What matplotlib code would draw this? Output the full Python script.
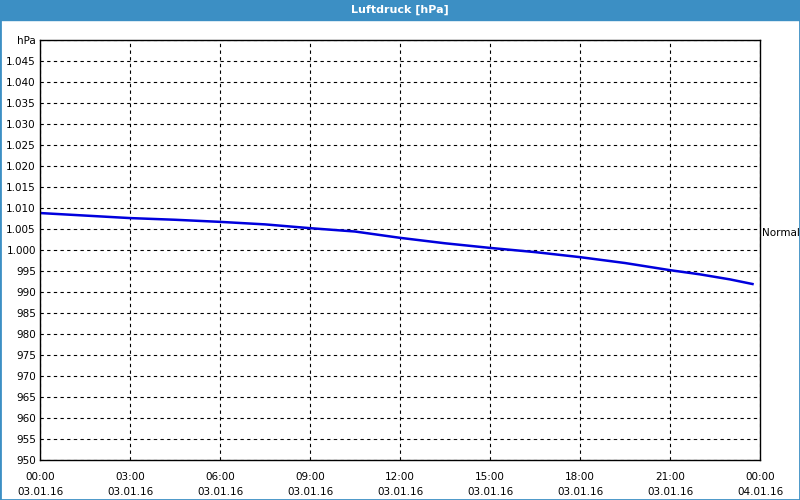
import matplotlib
matplotlib.use("Agg")
import matplotlib.pyplot as plt
from matplotlib.patches import Rectangle

hours = [0, 1.5, 3, 4.5, 6, 7.5, 9, 10.5, 12, 13.5, 15, 16.5, 18, 19.5, 21, 22, 23, 23.75]
pressure = [1008.8, 1008.2, 1007.6, 1007.2, 1006.7, 1006.1, 1005.2, 1004.4, 1002.9, 1001.6, 1000.5, 999.5, 998.3, 996.9, 995.2, 994.2, 993.0, 991.9]
x_ticks = [0, 3, 6, 9, 12, 15, 18, 21, 24]
x_labels = ["00:00\n03.01.16", "03:00\n03.01.16", "06:00\n03.01.16", "09:00\n03.01.16",
            "12:00\n03.01.16", "15:00\n03.01.16", "18:00\n03.01.16", "21:00\n03.01.16",
            "00:00\n04.01.16"]
y_ticks = list(range(950, 1051, 5))
y_labels = [f"{v/1000:.3f}" if v >= 1000 else str(v) for v in y_ticks]
y_labels[-1] = "hPa"

fig = plt.figure(figsize=(8, 5), dpi=100)
fig.patches.append(Rectangle((0, 0.96), 1, 0.04, transform=fig.transFigure, color="#3c8fc4", zorder=0))
fig.patches.append(Rectangle((0, 0), 1, 1, transform=fig.transFigure, fill=False, edgecolor="#3c8fc4", lw=2))
fig.text(0.5, 0.98, "Luftdruck [hPa]", ha="center", va="center", color="white", fontsize=8, fontweight="bold")

ax = fig.add_axes([0.05, 0.08, 0.9, 0.84])
ax.plot(hours, pressure, color="#0000dd", lw=1.8)
ax.set_xlim(0, 24)
ax.set_ylim(950, 1050)
ax.set_xticks(x_ticks)
ax.set_xticklabels(x_labels, fontsize=7.5, linespacing=1.6)
ax.set_yticks(y_ticks)
ax.set_yticklabels(y_labels, fontsize=7.5)
ax.tick_params(axis="y", length=0, pad=3)
ax.tick_params(axis="x", length=0, pad=9)
ax.grid(True, color="black", ls=(0, (3, 3)), lw=0.8)
for s in ax.spines.values():
    s.set_linewidth(1)
ax.text(1.003, 0.54, "Normal", transform=ax.transAxes, fontsize=7.5, va="center")
fig.savefig("out.png", dpi=100)
